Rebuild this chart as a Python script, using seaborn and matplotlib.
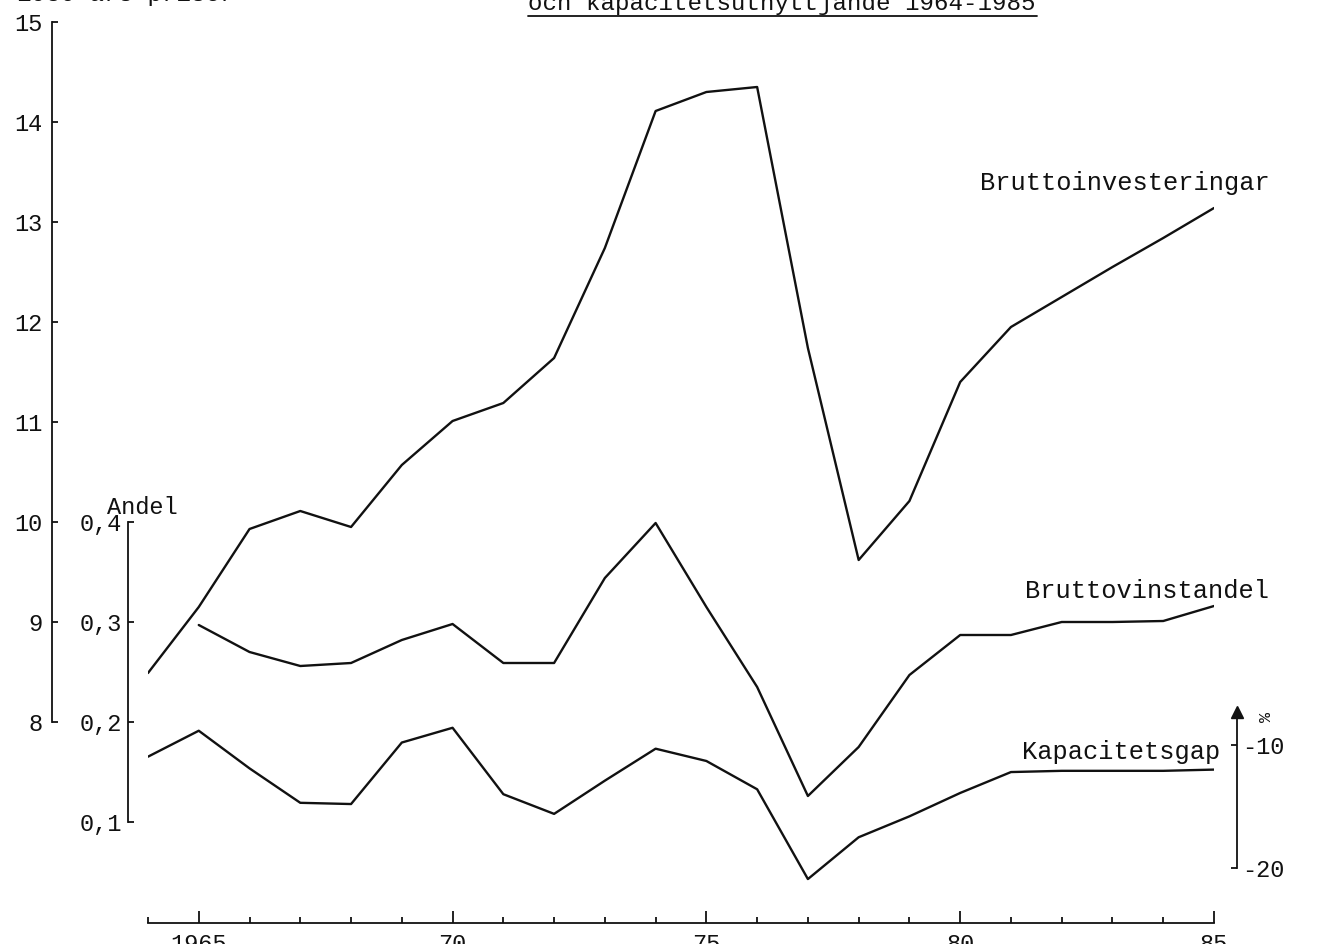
import numpy as np
import matplotlib
matplotlib.use("Agg")
import matplotlib.pyplot as plt
from matplotlib.lines import Line2D
from matplotlib.ticker import FixedLocator
import seaborn as sns

# --- data -------------------------------------------------------------
years = list(range(1964, 1986))

# Bruttoinvesteringar, Md kr (1980 års priser)
brutto_inv = [8.49, 9.15, 9.93, 10.11, 9.95, 10.57, 11.01, 11.19, 11.64, 12.74,
              14.11, 14.30, 14.35, 11.74, 9.62, 10.21, 11.40, 11.95, 12.25,
              12.55, 12.84, 13.14]

# Bruttovinstandel (andel), no value for 1964
vinstandel = [np.nan, 0.297, 0.270, 0.256, 0.259, 0.282, 0.298, 0.259, 0.259,
              0.344, 0.399, 0.315, 0.235, 0.126, 0.175, 0.247, 0.287, 0.287,
              0.300, 0.300, 0.301, 0.316]

# Kapacitetsgap, %
kapgap = [-10.95, -8.84, -11.9, -14.7, -14.8, -9.8, -8.6, -14.0, -15.6, -12.9,
          -10.3, -11.3, -13.6, -20.9, -17.5, -15.8, -13.9, -12.2, -12.1, -12.1,
          -12.1, -12.0]

inv_ticks = [8, 9, 10, 11, 12, 13, 14, 15]
andel_ticks = [0.1, 0.2, 0.3, 0.4]
andel_labels = ["0,1", "0,2", "0,3", "0,4"]
gap_ticks = [-20, -10]
gap_labels = ["-20", "-10"]
year_major = [1965, 1970, 1975, 1980, 1985]
year_labels = ["1965", "70", "75", "80", "85"]

title = "och kapacitetsutnyttjande 1964-1985"
unit_text = "1980 års priser"

# --- style --------------------------------------------------------------
sns.set_theme(style="white")
plt.rcParams["font.family"] = ["Liberation Mono", "DejaVu Sans"]
plt.rcParams["axes.linewidth"] = 1.3
FS = 17
FS_NAME = 18.3
FS_TITLE = 17.4
W, H = 1321, 944
LW = 1.7
INK = "#111111"

fig = plt.figure(figsize=(W / 100, H / 100), dpi=100)
fig.patch.set_facecolor("white")

# main axes: x from 1964 to 1985, y spans the investment scale
y_top_px, y_bot_px = 22, 923
x0_px, x1_px = 148, 1214
ax = fig.add_axes([x0_px / W, (H - y_bot_px) / H,
                   (x1_px - x0_px) / W, (y_bot_px - y_top_px) / H])
ax.set_facecolor("none")
px_per_unit = 100.0
inv_lo = 15 - (y_bot_px - y_top_px) / px_per_unit
ax.set_xlim(1964, 1985)
ax.set_ylim(inv_lo, 15)

sns.lineplot(x=years, y=brutto_inv, ax=ax, color=INK, linewidth=LW)

for s in ("top", "right"):
    ax.spines[s].set_visible(False)
ax.spines["left"].set_position(("outward", (x0_px - 52) * 0.72))
ax.spines["left"].set_bounds(8, 15)
ax.spines["bottom"].set_bounds(1964, 1985)
for s in ("left", "bottom"):
    ax.spines[s].set_color(INK)

ax.set_yticks(inv_ticks)
ax.set_yticklabels([str(t) for t in inv_ticks])
ax.tick_params(axis="y", direction="in", length=4, width=1.3, colors=INK,
               labelsize=FS, pad=7, left=True)
ax.set_xticks(year_major)
ax.set_xticklabels(year_labels)
ax.xaxis.set_minor_locator(FixedLocator(years))
ax.tick_params(axis="x", which="major", direction="in", length=9, width=1.3,
               colors=INK, labelsize=FS, pad=7, bottom=True)
ax.tick_params(axis="x", which="minor", direction="in", length=4, width=1.3,
               colors=INK, bottom=True)
ax.set_xlabel("")
ax.set_ylabel("")

# share axis (Andel), drawn on the left next to the data
ax2 = ax.twinx()
ax2.set_ylim(0.2 + (inv_lo - 8) * 0.1, 0.2 + (15 - 8) * 0.1)
sns.lineplot(x=years, y=vinstandel, ax=ax2, color=INK, linewidth=LW)
for s in ("top", "right", "bottom"):
    ax2.spines[s].set_visible(False)
ax2.spines["left"].set_visible(True)
ax2.spines["left"].set_color(INK)
ax2.spines["left"].set_position(("outward", (x0_px - 128) * 0.72))
ax2.spines["left"].set_bounds(0.1, 0.4)
ax2.yaxis.set_ticks_position("left")
ax2.yaxis.set_label_position("left")
ax2.set_yticks(andel_ticks)
ax2.set_yticklabels(andel_labels)
ax2.tick_params(axis="y", direction="in", length=4, width=1.3, colors=INK,
                labelsize=FS, pad=4)
ax2.set_ylabel("")
fig.text(142 / W, 1 - 507 / H, "Andel", ha="center", va="center",
         fontsize=FS, color=INK)

# capacity gap axis (%), on the right with an arrow
ax3 = ax.twinx()
gap_px = 12.3
ax3.set_ylim(-10 - (y_bot_px - 745) / gap_px, -10 + (745 - y_top_px) / gap_px)
sns.lineplot(x=years, y=kapgap, ax=ax3, color=INK, linewidth=LW)
for s in ("top", "left", "bottom"):
    ax3.spines[s].set_visible(False)
gap_x = 1964 + (1237 - x0_px) / ((x1_px - x0_px) / 21)
arrow_top = -10 + (745 - 707) / gap_px
ax3.spines["right"].set_position(("data", gap_x))
ax3.spines["right"].set_bounds(-20, arrow_top - 0.6)
ax3.spines["right"].set_color(INK)
ax3.set_yticks(gap_ticks)
ax3.set_yticklabels(gap_labels)
ax3.tick_params(axis="y", direction="in", length=4, width=1.3, colors=INK,
                labelsize=FS, pad=4)
ax3.set_ylabel("")
ax3.plot([gap_x], [arrow_top - 0.4], marker="^", markersize=8, color=INK,
         clip_on=False)
ax3.text(gap_x + 0.5, -7.7, "%", rotation=-90, ha="center", va="center",
         fontsize=12, color=INK, clip_on=False)

# series names
ax.text(1980.39, 13.39, "Bruttoinvesteringar", ha="left", va="center",
        fontsize=FS_NAME, color=INK)
ax.text(1981.28, 9.31, "Bruttovinstandel", ha="left", va="center",
        fontsize=FS_NAME, color=INK)
ax.text(1981.22, 7.70, "Kapacitetsgap", ha="left", va="center",
        fontsize=FS_NAME, color=INK)

# heading lines at the top
fig.text(528 / W, 1 - 10 / H, title, ha="left", va="baseline",
         fontsize=FS_TITLE, color=INK)
fig.add_artist(Line2D([528 / W, 1037 / W], [1 - 16 / H, 1 - 16 / H],
                      transform=fig.transFigure, color=INK, linewidth=1.3))
fig.text(17 / W, 1 - 1 / H, unit_text, ha="left", va="baseline",
         fontsize=FS_TITLE, color=INK)

fig.savefig("out.png", dpi=100, facecolor="white")
